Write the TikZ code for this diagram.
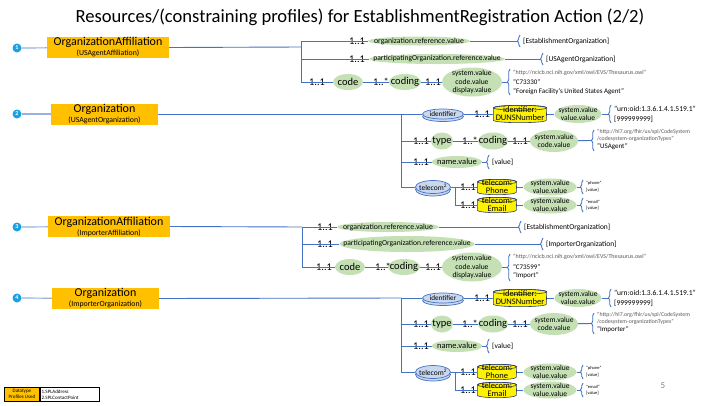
\documentclass[tikz,border=0pt]{standalone}
\usepackage{fontspec}
\setmainfont{Carlito}
\usetikzlibrary{shapes.geometric,decorations.pathreplacing}
\definecolor{lb}{HTML}{4472C4}
\definecolor{eg}{HTML}{C5E0B4}
\definecolor{orng}{HTML}{FFC000}
\definecolor{cy}{HTML}{1BA1E2}
\definecolor{lbf}{HTML}{C9D7EF}
\definecolor{dkb}{HTML}{2F3F6F}
\definecolor{gtx}{HTML}{595959}
\newcommand\fs[2]{\fontsize{#1}{#2}\selectfont}
\tikzset{
 ln/.style={draw=lb, line width=0.9pt},
 lnl/.style={draw=lb!55, line width=1.2pt},
 ell/.style={ellipse, fill=eg, inner sep=0pt},
 bel/.style={ellipse, draw=lb, fill=lbf, line width=0.7pt, inner sep=0pt},
 ob/.style={rectangle, fill=orng, inner sep=0pt, align=center, minimum height=21pt, font=\fs{12}{10}},
 crd/.style={inner sep=0pt, font=\fs{10.3}{10}},
 num/.style={circle, fill=cy, text=white, inner sep=0pt, minimum size=9pt, font=\fs{6}{6}\bfseries},
 bt/.style={anchor=west, inner sep=0pt, font=\fs{7.5}{8}},
 gt/.style={anchor=west, inner sep=0pt, text=gtx, font=\fs{6}{7}},
 tt/.style={anchor=west, inner sep=0pt, font=\fs{4.5}{5}},
 brc/.style={draw=lb, line width=0.9pt, decorate, decoration={brace, amplitude=2.5pt}},
 cylb/.style={rectangle, inner sep=0pt},
 cyls/.style={draw=dkb, fill=yellow, line width=0.6pt},
}
\newcommand\EL[6]{\node[ell,minimum width=#3pt,minimum height=#4pt] (#1) at (#2) {};
 \node[inner sep=0pt,align=center,font=#5] (#1t) at (#1.center) {#6};}
\newcommand\BEL[6]{\node[bel,minimum width=#3pt,minimum height=#4pt,yshift=-2.5pt] (#1b) at (#2) {};
 \node[bel,minimum width=#3pt,minimum height=#4pt] (#1) at (#2) {};
 \node[inner sep=0pt,align=center,font=#5] (#1t) at (#1.center) {#6};}
% cylinder: name, pos, width, height, text
\newcommand\CY[5]{\node[cylb,minimum width=#3pt,minimum height=#4pt] (#1) at (#2) {};
 \draw[cyls] ([yshift=-2.5pt]#1.north west) -- ([yshift=2.5pt]#1.south west)
   arc[start angle=180,end angle=360,x radius={#3*0.5pt},y radius=2.5pt]
   -- ([yshift=-2.5pt]#1.north east)
   arc[start angle=0,end angle=180,x radius={#3*0.5pt},y radius=2.5pt] -- cycle;
 \draw[draw=dkb,line width=0.6pt] ([yshift=-2.5pt]#1.north) ellipse[x radius={#3*0.5pt},y radius=2.5pt];
 \node[inner sep=0pt,align=center,font=\fs{8.5}{8.5}] (#1t) at ([yshift=0.5pt]#1.center) {#5};}
\begin{document}
\begin{tikzpicture}[x=1pt,y=-1pt]
\useasboundingbox[fill=white] (0,0) rectangle (720,405);
\node (title) at (360,17) {\fs{18.6}{19}Resources/(constraining profiles) for EstablishmentRegistration Action (2/2)};

% ===== Section 1 =====
\node[num] (n1) at (17,48) {1};
\node[ob,minimum width=122pt] (o1) at (108,47.5) {OrganizationAffiliation\\{\fs{7.8}{8}(USAgentAffiliation)}};
\draw[lnl] (n1) -- (o1);
\coordinate (t1) at (301,47);
\coordinate (t1a) at (301,41);
\coordinate (t1c) at (301,82);
\draw[ln] (o1.east) -- (t1);
\draw[ln] (t1a) -- (t1c);
\EL{e1a}{419,41}{102}{9}{\fs{7.8}{8}}{organization.reference.value}
\node[crd] (c1a) at (357,41) {1..1};
\draw[brc] (520,47) -- (520,35); \coordinate (b1a) at (517.5,41);
\node[bt] (x1a) at (523,41) {[EstablishmentOrganization]};
\draw[ln] (t1a) -- (e1a); \draw[ln] (e1a) -- (b1a);
\EL{e1b}{437,59}{136}{10}{\fs{7.6}{8}}{participatingOrganization.reference.value}
\node[crd] (c1b) at (357,59) {1..1};
\draw[brc] (543,65) -- (543,53); \coordinate (b1b) at (540.5,59);
\node[bt] (x1b) at (546,59) {[USAgentOrganization]};
\draw[ln] (t1a|-e1b) -- (e1b); \draw[ln] (e1b) -- (b1b);
\EL{e1c}{348,82}{30}{16}{\fs{10.5}{10}}{code}
\node[crd] (c1c) at (317,82) {1..1};
\EL{e1d}{405,82}{32}{16}{\fs{10.5}{10}}{coding}
\node[crd] (c1d) at (381,82) {1..*};
\EL{e1e}{472,82}{60}{29}{\fs{7.6}{8.8}}{system.value\\code.value\\display.value}
\node[crd] (c1e) at (433,82) {1..1};
\draw[brc] (510,95) -- (510,69); \coordinate (b1e) at (507.5,82);
\node[gt] (x1c) at (513,73) {"http://ncicb.nci.nih.gov/xml/owl/EVS/Thesaurus.owl"};
\node[bt,font=\fs{7}{8}] (x1d) at (513,82) {"C73330"};
\node[bt,font=\fs{7}{8}] (x1e) at (513,92) {"Foreign Facility's United States Agent"};
\draw[ln] (t1c) -- (e1c); \draw[ln] (e1c) -- (e1d); \draw[ln] (e1d) -- (e1e); \draw[ln] (e1e) -- (b1e);

% ===== Section 2 =====
\node[num] (n2) at (17,114) {2};
\node[ob,minimum width=107pt] (o2) at (104.5,114) {Organization\\{\fs{7.8}{8}(USAgentOrganization)}};
\draw[lnl] (n2) -- (o2);
\coordinate (t2a) at (401,114);
\coordinate (t2d) at (401,187);
\draw[ln] (o2.east) -- (t2a);
\draw[ln] (t2a) -- (t2d);
\BEL{e2a}{443,114}{41}{10}{\fs{7.2}{8}}{identifier}
\node[crd] (c2a) at (482,114) {1..1};
\CY{y2a}{520,114}{53}{17}{identifier:\\DUNSNumber}
\EL{e2b}{578,114}{47}{18}{\fs{7.5}{8.5}}{system.value\\value.value}
\draw[brc] (611,123) -- (611,105); \coordinate (b2a) at (608.5,114);
\node[bt] (x2a) at (614,109) {"urn:oid:1.3.6.1.4.1.519.1"};
\node[bt] (x2b) at (614,119) {[999999999]};
\draw[ln] (t2a) -- (e2a); \draw[ln] (e2a) -- (y2a); \draw[ln] (y2a) -- (e2b); \draw[ln] (e2b) -- (b2a);
\node[crd] (c2b) at (421,141) {1..1};
\EL{e2c}{442,141}{22}{17}{\fs{10.5}{10}}{type}
\node[crd] (c2c) at (470,141) {1..*};
\EL{e2d}{493,141}{30}{17}{\fs{10.5}{10}}{coding}
\node[crd] (c2d) at (520,141) {1..1};
\EL{e2e}{554,141}{48}{22}{\fs{7.5}{8.8}}{system.value\\code.value}
\draw[brc] (594,151) -- (594,130); \coordinate (b2e) at (591.5,140.5);
\node[gt,font=\fs{5.8}{6}] (x2c) at (597,132) {"http://hl7.org/fhir/us/spl/CodeSystem};
\node[gt,font=\fs{5.8}{6}] (x2d) at (597,139) {/codesystem-organizationTypes"};
\node[bt,font=\fs{7}{8}] (x2e) at (597,147) {"USAgent"};
\draw[ln] (t2a|-e2c) -- (e2c); \draw[ln] (e2c) -- (e2d); \draw[ln] (e2d) -- (e2e); \draw[ln] (e2e) -- (b2e);
\node[crd] (c2f) at (421,162) {1..1};
\EL{e2f}{457,162}{50}{12}{\fs{8.5}{9}}{name.value}
\draw[brc] (489,169) -- (489,155); \coordinate (b2f) at (486.5,162);
\node[bt] (x2f) at (492,162) {[value]};
\draw[ln] (t2a|-e2f) -- (e2f); \draw[ln] (e2f) -- (b2f);
\BEL{e2g}{433,187}{35}{13}{\fs{7.5}{8}}{telecom\textsuperscript{2}}
\draw[ln] (t2d) -- (e2g);
\node[crd] (c2g) at (468,187) {1..1};
\CY{y2g}{497,187}{39}{15}{telecom:\\Phone}
\EL{e2h}{550,187}{53}{17}{\fs{7.5}{8.5}}{system.value\\value.value}
\draw[brc] (583,194) -- (583,180); \coordinate (b2h) at (580.5,187);
\node[tt] (x2g) at (586,183.5) {"phone"};
\node[tt] (x2h) at (586,190.5) {[value]};
\draw[ln] (e2g) -- (y2g); \draw[ln] (y2g) -- (e2h); \draw[ln] (e2h) -- (b2h);
\node[crd] (c2i) at (468,205) {1..1};
\CY{y2i}{497,205}{39}{15}{telecom:\\Email}
\EL{e2j}{550,205}{53}{17}{\fs{7.5}{8.5}}{system.value\\value.value}
\draw[brc] (583,212) -- (583,198); \coordinate (b2j) at (580.5,205);
\node[tt] (x2i) at (586,201.5) {"email"};
\node[tt] (x2j) at (586,208.5) {[value]};
\draw[ln] (e2g.east) -- ++(5,0) |- (y2i); \draw[ln] (y2i) -- (e2j); \draw[ln] (e2j) -- (b2j);

% ===== Section 3 =====
\node[num] (n3) at (17,227) {3};
\node[ob,minimum width=122pt] (o3) at (109,226.5) {OrganizationAffiliation\\{\fs{7.8}{8}(ImporterAffiliation)}};
\draw[lnl] (n3) -- (o3);
\coordinate (t3a) at (302,227);
\coordinate (t3c) at (302,267);
\draw[ln] (o3.east) -- (t3a);
\draw[ln] (t3a) -- (t3c);
\EL{e3a}{388,227}{102}{10}{\fs{7.8}{8}}{organization.reference.value}
\node[crd] (c3a) at (325,227) {1..1};
\draw[brc] (521,233) -- (521,221); \coordinate (b3a) at (518.5,227);
\node[bt] (x3a) at (524,227) {[EstablishmentOrganization]};
\draw[ln] (t3a) -- (e3a); \draw[ln] (e3a) -- (b3a);
\EL{e3b}{407,244}{135}{16}{\fs{7.6}{8}}{participatingOrganization.reference.value}
\node[crd] (c3b) at (325,244) {1..1};
\draw[brc] (543,250) -- (543,238); \coordinate (b3b) at (540.5,244);
\node[bt] (x3b) at (546,244) {[ImporterOrganization]};
\draw[ln] (t3a|-e3b) -- (e3b); \draw[ln] (e3b) -- (b3b);
\EL{e3c}{350,267}{30}{16}{\fs{10.5}{10}}{code}
\node[crd] (c3c) at (324,267) {1..1};
\EL{e3d}{404,267}{32}{16}{\fs{10.5}{10}}{coding}
\node[crd] (c3d) at (383,267) {1..*};
\EL{e3e}{472,267}{60}{29}{\fs{7.6}{8.8}}{system.value\\code.value\\display.value}
\node[crd] (c3e) at (433,267) {1..1};
\draw[brc] (510,281) -- (510,254); \coordinate (b3e) at (507.5,267);
\node[gt] (x3c) at (513,257) {"http://ncicb.nci.nih.gov/xml/owl/EVS/Thesaurus.owl"};
\node[bt,font=\fs{7}{8}] (x3d) at (513,267) {"C73599"};
\node[bt,font=\fs{7}{8}] (x3e) at (513,276) {"Import"};
\draw[ln] (t3c) -- (e3c); \draw[ln] (e3c) -- (e3d); \draw[ln] (e3d) -- (e3e); \draw[ln] (e3e) -- (b3e);

% ===== Section 4 =====
\node[num] (n4) at (17,298) {4};
\node[ob,minimum width=107pt] (o4) at (105.5,298.5) {Organization\\{\fs{7.8}{8}(ImporterOrganization)}};
\draw[lnl] (n4) -- (o4);
\coordinate (t4a) at (401,298);
\coordinate (t4d) at (401,372);
\draw[ln] (o4.east) -- (t4a);
\draw[ln] (t4a) -- (t4d);
\BEL{e4a}{443,298}{41}{10}{\fs{7.2}{8}}{identifier}
\node[crd] (c4a) at (482,298) {1..1};
\CY{y4a}{520,298}{53}{17}{identifier:\\DUNSNumber}
\EL{e4b}{578,298}{47}{18}{\fs{7.5}{8.5}}{system.value\\value.value}
\draw[brc] (611,307) -- (611,289); \coordinate (b4a) at (608.5,298);
\node[bt] (x4a) at (614,293) {"urn:oid:1.3.6.1.4.1.519.1"};
\node[bt] (x4b) at (614,303) {[999999999]};
\draw[ln] (t4a) -- (e4a); \draw[ln] (e4a) -- (y4a); \draw[ln] (y4a) -- (e4b); \draw[ln] (e4b) -- (b4a);
\node[crd] (c4b) at (421,324) {1..1};
\EL{e4c}{442,324}{22}{17}{\fs{10.5}{10}}{type}
\node[crd] (c4c) at (470,324) {1..*};
\EL{e4d}{493,324}{30}{17}{\fs{10.5}{10}}{coding}
\node[crd] (c4d) at (520,324) {1..1};
\EL{e4e}{554,324}{48}{22}{\fs{7.5}{8.8}}{system.value\\code.value}
\draw[brc] (594,334) -- (594,313); \coordinate (b4e) at (591.5,323.5);
\node[gt,font=\fs{5.8}{6}] (x4c) at (597,315) {"http://hl7.org/fhir/us/spl/CodeSystem};
\node[gt,font=\fs{5.8}{6}] (x4d) at (597,322) {/codesystem-organizationTypes"};
\node[bt,font=\fs{7}{8}] (x4e) at (597,330) {"Importer"};
\draw[ln] (t4a|-e4c) -- (e4c); \draw[ln] (e4c) -- (e4d); \draw[ln] (e4d) -- (e4e); \draw[ln] (e4e) -- (b4e);
\node[crd] (c4f) at (421,346) {1..1};
\EL{e4f}{457,346}{50}{12}{\fs{8.5}{9}}{name.value}
\draw[brc] (489,353) -- (489,339); \coordinate (b4f) at (486.5,346);
\node[bt] (x4f) at (492,346) {[value]};
\draw[ln] (t4a|-e4f) -- (e4f); \draw[ln] (e4f) -- (b4f);
\BEL{e4g}{433,372}{35}{13}{\fs{7.5}{8}}{telecom\textsuperscript{2}}
\draw[ln] (t4d) -- (e4g);
\node[crd] (c4g) at (468,372) {1..1};
\CY{y4g}{497,372}{39}{15}{telecom:\\Phone}
\EL{e4h}{550,372}{53}{17}{\fs{7.5}{8.5}}{system.value\\value.value}
\draw[brc] (583,379) -- (583,365); \coordinate (b4h) at (580.5,372);
\node[tt] (x4g) at (586,368.5) {"phone"};
\node[tt] (x4h) at (586,375.5) {[value]};
\draw[ln] (e4g) -- (y4g); \draw[ln] (y4g) -- (e4h); \draw[ln] (e4h) -- (b4h);
\node[crd] (c4i) at (468,390) {1..1};
\CY{y4i}{497,390}{39}{15}{telecom:\\Email}
\EL{e4j}{550,390}{53}{17}{\fs{7.5}{8.5}}{system.value\\value.value}
\draw[brc] (583,397) -- (583,383); \coordinate (b4j) at (580.5,390);
\node[tt] (x4i) at (586,386.5) {"email"};
\node[tt] (x4j) at (586,393.5) {[value]};
\draw[ln] (e4g.east) -- ++(5,0) |- (y4i); \draw[ln] (y4i) -- (e4j); \draw[ln] (e4j) -- (b4j);

\node[text=gray] (pg) at (663,386) {\fs{9}{9}5};

% legend
\node[draw, line width=0.8pt, fill=orng, minimum width=35pt, minimum height=14pt, anchor=north west, inner sep=0pt, align=center, font=\fs{5}{6}] (lg1) at (4,387) {Datatype\\Profiles Used};
\node[draw, line width=0.8pt, fill=white, minimum height=14pt, text width=56pt, anchor=north west, inner sep=1.5pt, align=left, font=\fs{5}{6}] (lg2) at (lg1.north east) {1.SPLAddress\\2.SPLContactPoint};
\end{tikzpicture}
\end{document}
